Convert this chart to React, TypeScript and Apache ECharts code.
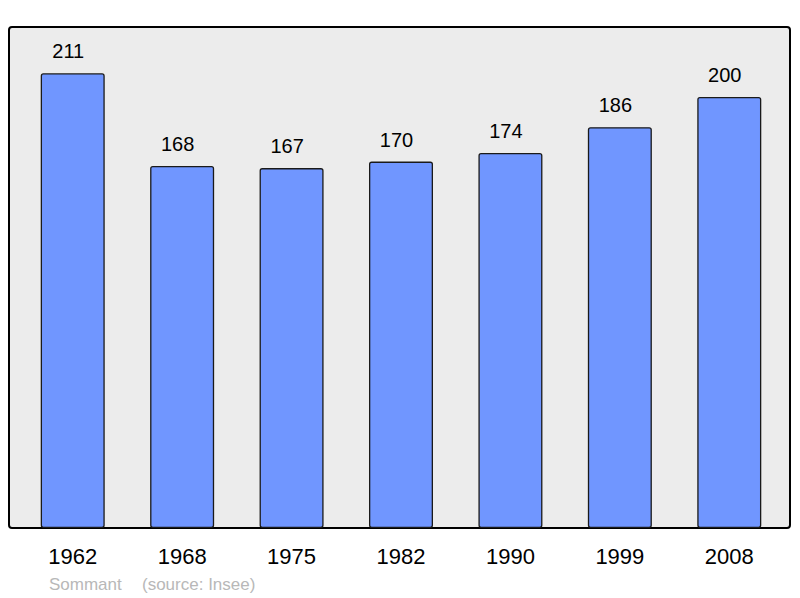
import React, { useEffect, useRef } from "react";
import * as echarts from "echarts";

const years = ["1962", "1968", "1975", "1982", "1990", "1999", "2008"];
const population = [211, 168, 167, 170, 174, 186, 200];
const communeName = "Sommant";
const sourceText = "(source: Insee)";

export default function App() {
  const ref = useRef<HTMLDivElement>(null);
  useEffect(() => {
    if (!ref.current) return;
    const chart = echarts.init(ref.current, null, { renderer: "svg" });
    chart.setOption({
      animation: false,
      backgroundColor: "#ffffff",
      textStyle: { fontFamily: "Liberation Sans, Arial, sans-serif" },
      grid: { left: 18, right: 16, top: 28, bottom: 70 },
      xAxis: {
        type: "category",
        data: years,
        axisLine: { show: false },
        axisTick: { show: false },
        axisLabel: {
          color: "#000",
          fontSize: 22,
          margin: 17,
          fontFamily: "Liberation Sans, Arial, sans-serif",
        },
      },
      yAxis: {
        type: "value",
        min: 0,
        max: 232,
        show: false,
        splitLine: { show: false },
      },
      graphic: [
        {
          type: "rect",
          z: -10,
          shape: { x: 9, y: 27, width: 781, height: 501, r: 3 },
          style: { fill: "#ececec", stroke: "#000", lineWidth: 2 },
        },
        {
          type: "text",
          left: 49,
          top: 576,
          style: {
            text: communeName,
            fill: "#b8b8b8",
            fontSize: 17,
            fontFamily: "Liberation Sans, Arial, sans-serif",
          },
        },
        {
          type: "text",
          left: 142,
          top: 576,
          style: {
            text: sourceText,
            fill: "#b8b8b8",
            fontSize: 17,
            fontFamily: "Liberation Sans, Arial, sans-serif",
          },
        },
      ],
      series: [
        {
          type: "bar",
          data: population,
          barWidth: 64,
          itemStyle: {
            color: "#7096ff",
            borderColor: "#1a1a1a",
            borderWidth: 1.3,
            borderRadius: 2,
          },
          label: {
            show: true,
            position: "top",
            distance: 12,
            offset: [-4.5, 0],
            color: "#000",
            fontSize: 20,
            fontFamily: "Liberation Sans, Arial, sans-serif",
          },
        },
      ],
    });
    return () => chart.dispose();
  }, []);
  return <div ref={ref} style={{ width: 800, height: 598, position: "absolute", left: 0, top: 0 }} />;
}
